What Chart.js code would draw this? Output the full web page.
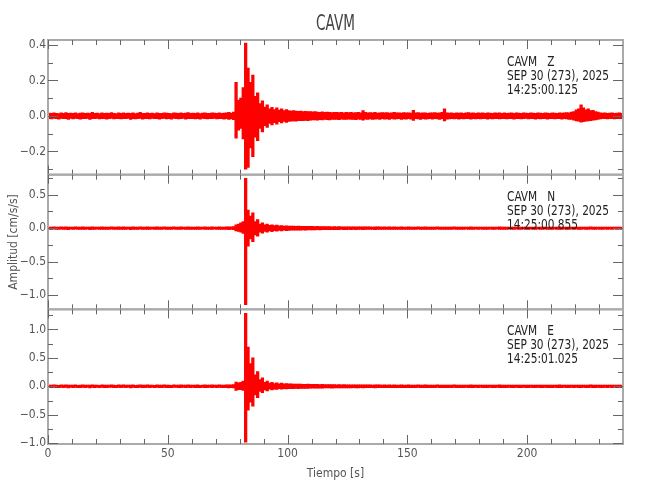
<!DOCTYPE html>
<html lang="es">
<head>
<meta charset="UTF-8">
<title>CAVM</title>
<script src="https://cdn.jsdelivr.net/npm/chart.js"></script>
<style>
  html, body { margin: 0; padding: 0; background: #fff; }
  #wrap { width: 650px; height: 500px; }
</style>
</head>
<body>
<div id="wrap"><canvas id="sismo" width="650" height="500"></canvas></div>
<script>
// --- datos ---------------------------------------------------------------
const station = 'CAVM';
const components = ['Z', 'N', 'E'];
const dateLine = 'SEP 30 (273), 2025';
const startTimes = ['14:25:00.125', '14:25:00.855', '14:25:01.025'];

const xTicks = [0, 50, 100, 150, 200];
const xMinor = [10, 20, 30, 40, 60, 70, 80, 90, 110, 120, 130, 140, 160, 170, 180, 190, 210, 220, 230];

const yTicksZ = [0.4, 0.2, 0, -0.2];
const yMinorZ = [0.3, 0.1, -0.1, -0.3];
const yTicksN = [0.5, 0, -0.5, -1.0];
const yMinorN = [0.75, 0.25, -0.25, -0.75];
const yTicksE = [1.0, 0.5, 0, -0.5, -1.0];
const yMinorE = [1.25, 0.75, 0.25, -0.25, -0.75];

// envolvente por segundo (max / min), cm/s/s, t = 0..239 s
const zHi = [
  .016,.014,.018,.015,.013,.017,.015,.019,.014,.016,
  .015,.017,.013,.016,.018,.014,.016,.015,.020,.014,
  .016,.013,.017,.015,.016,.014,.019,.015,.013,.017,
  .015,.018,.014,.016,.015,.017,.013,.016,.020,.015,
  .014,.017,.015,.016,.013,.018,.015,.014,.017,.016,
  .015,.013,.018,.016,.014,.017,.015,.016,.019,.014,
  .016,.015,.017,.013,.016,.018,.014,.015,.017,.016,
  .015,.018,.014,.016,.017,.020,.016,.022,.190,.090,
  .100,.160,.410,.270,.190,.230,.110,.130,.070,.085,
  .050,.062,.040,.048,.036,.045,.033,.040,.030,.036,
  .030,.028,.030,.027,.026,.028,.025,.026,.024,.025,
  .023,.024,.022,.021,.023,.020,.022,.021,.019,.020,
  .021,.019,.020,.018,.020,.019,.021,.018,.019,.020,
  .018,.030,.020,.017,.019,.018,.020,.016,.018,.019,
  .017,.019,.016,.018,.020,.017,.018,.016,.019,.017,
  .018,.016,.032,.017,.019,.016,.018,.017,.015,.018,
  .017,.019,.016,.018,.020,.040,.017,.016,.018,.015,
  .017,.016,.018,.015,.017,.019,.016,.017,.015,.018,
  .016,.017,.015,.018,.016,.015,.017,.016,.018,.015,
  .017,.015,.016,.018,.015,.017,.016,.014,.017,.016,
  .015,.017,.016,.014,.018,.016,.015,.017,.016,.015,
  .017,.016,.015,.018,.016,.017,.019,.018,.022,.025,
  .035,.040,.062,.045,.035,.040,.030,.032,.025,.022,
  .018,.016,.017,.015,.016,.018,.015,.016,.017,.015
];
const zLo = [
  -.015,-.017,-.014,-.016,-.018,-.014,-.016,-.015,-.019,-.014,
  -.017,-.014,-.016,-.018,-.015,-.016,-.014,-.019,-.015,-.016,
  -.014,-.017,-.015,-.016,-.018,-.015,-.014,-.017,-.016,-.015,
  -.017,-.015,-.016,-.014,-.019,-.015,-.017,-.016,-.014,-.018,
  -.016,-.015,-.017,-.014,-.016,-.015,-.018,-.016,-.014,-.017,
  -.016,-.018,-.014,-.015,-.017,-.016,-.014,-.018,-.015,-.016,
  -.015,-.017,-.016,-.018,-.014,-.016,-.017,-.015,-.016,-.014,
  -.017,-.015,-.016,-.018,-.016,-.019,-.017,-.021,-.125,-.080,
  -.070,-.130,-.300,-.290,-.180,-.230,-.120,-.140,-.070,-.090,
  -.055,-.065,-.042,-.050,-.038,-.046,-.033,-.040,-.031,-.036,
  -.031,-.029,-.028,-.030,-.027,-.026,-.027,-.025,-.026,-.024,
  -.023,-.022,-.024,-.021,-.022,-.020,-.021,-.022,-.019,-.020,
  -.019,-.021,-.018,-.020,-.019,-.018,-.020,-.019,-.021,-.018,
  -.019,-.024,-.018,-.020,-.017,-.019,-.018,-.017,-.019,-.016,
  -.018,-.017,-.019,-.016,-.018,-.017,-.016,-.019,-.017,-.018,
  -.016,-.018,-.025,-.016,-.017,-.019,-.016,-.018,-.017,-.015,
  -.018,-.016,-.017,-.019,-.016,-.028,-.018,-.017,-.015,-.017,
  -.016,-.018,-.015,-.017,-.016,-.015,-.018,-.016,-.017,-.015,
  -.017,-.015,-.016,-.018,-.015,-.017,-.016,-.015,-.017,-.016,
  -.015,-.017,-.016,-.015,-.018,-.016,-.015,-.017,-.016,-.014,
  -.017,-.015,-.016,-.018,-.015,-.017,-.016,-.015,-.018,-.016,
  -.015,-.017,-.016,-.015,-.018,-.016,-.017,-.019,-.020,-.024,
  -.028,-.030,-.035,-.032,-.030,-.028,-.026,-.024,-.022,-.020,
  -.017,-.016,-.015,-.017,-.016,-.015,-.017,-.016,-.015,-.016
];

const nHi = [
  .018,.016,.020,.017,.015,.019,.017,.021,.016,.018,
  .017,.019,.015,.018,.020,.016,.018,.017,.021,.016,
  .018,.015,.019,.017,.018,.016,.020,.017,.015,.019,
  .017,.020,.016,.018,.017,.019,.015,.018,.021,.017,
  .016,.019,.017,.018,.015,.020,.017,.016,.019,.018,
  .017,.015,.020,.018,.016,.019,.017,.018,.021,.016,
  .018,.017,.019,.015,.018,.020,.016,.017,.019,.018,
  .017,.020,.016,.018,.019,.022,.020,.025,.050,.060,
  .080,.100,.746,.270,.180,.230,.100,.130,.060,.080,
  .050,.060,.042,.052,.040,.046,.034,.040,.032,.037,
  .032,.030,.031,.029,.030,.028,.029,.027,.028,.026,
  .027,.025,.026,.024,.025,.023,.024,.025,.022,.023,
  .022,.023,.021,.022,.020,.022,.021,.020,.022,.019,
  .021,.020,.019,.021,.020,.018,.020,.019,.021,.018,
  .019,.018,.020,.017,.019,.018,.016,.019,.018,.017,
  .019,.017,.018,.016,.019,.017,.018,.020,.017,.016,
  .018,.017,.019,.016,.018,.017,.016,.018,.017,.019,
  .016,.018,.017,.015,.018,.017,.019,.016,.017,.018,
  .017,.016,.018,.017,.015,.018,.016,.017,.019,.016,
  .018,.016,.017,.015,.018,.017,.016,.018,.017,.016,
  .017,.018,.016,.017,.015,.018,.017,.016,.018,.017,
  .016,.018,.017,.019,.016,.017,.018,.016,.017,.015,
  .018,.017,.016,.018,.017,.016,.019,.017,.016,.018,
  .017,.016,.018,.015,.017,.016,.018,.017,.015,.016
];
const nLo = [
  -.017,-.019,-.016,-.018,-.020,-.016,-.018,-.017,-.021,-.016,
  -.019,-.016,-.018,-.020,-.017,-.018,-.016,-.021,-.017,-.018,
  -.016,-.019,-.017,-.018,-.020,-.017,-.016,-.019,-.018,-.017,
  -.019,-.017,-.018,-.016,-.021,-.017,-.019,-.018,-.016,-.020,
  -.018,-.017,-.019,-.016,-.018,-.017,-.020,-.018,-.016,-.019,
  -.018,-.020,-.016,-.017,-.019,-.018,-.016,-.020,-.017,-.018,
  -.017,-.019,-.018,-.020,-.016,-.018,-.019,-.017,-.018,-.016,
  -.019,-.017,-.018,-.020,-.018,-.021,-.019,-.024,-.040,-.050,
  -.060,-.080,-1.145,-.270,-.160,-.200,-.100,-.120,-.060,-.075,
  -.050,-.060,-.040,-.052,-.038,-.046,-.033,-.040,-.030,-.036,
  -.032,-.031,-.030,-.029,-.030,-.028,-.027,-.028,-.026,-.027,
  -.025,-.026,-.024,-.025,-.023,-.024,-.022,-.023,-.024,-.022,
  -.021,-.022,-.020,-.022,-.021,-.020,-.021,-.019,-.021,-.020,
  -.019,-.021,-.020,-.018,-.020,-.019,-.021,-.018,-.019,-.020,
  -.018,-.019,-.017,-.019,-.018,-.020,-.017,-.018,-.019,-.017,
  -.018,-.019,-.017,-.018,-.016,-.019,-.018,-.017,-.019,-.018,
  -.017,-.018,-.016,-.019,-.017,-.018,-.019,-.017,-.018,-.016,
  -.018,-.017,-.019,-.017,-.016,-.018,-.017,-.019,-.016,-.018,
  -.016,-.018,-.017,-.019,-.016,-.017,-.018,-.016,-.017,-.019,
  -.017,-.018,-.016,-.017,-.019,-.016,-.018,-.017,-.016,-.018,
  -.018,-.016,-.017,-.019,-.016,-.017,-.018,-.016,-.017,-.018,
  -.017,-.016,-.018,-.017,-.019,-.016,-.017,-.018,-.016,-.017,
  -.016,-.018,-.017,-.016,-.018,-.017,-.015,-.018,-.017,-.016,
  -.018,-.017,-.016,-.018,-.016,-.017,-.015,-.018,-.016,-.017
];

const eHi = [
  .022,.020,.025,.021,.019,.024,.021,.026,.020,.023,
  .021,.024,.019,.022,.025,.020,.023,.021,.026,.020,
  .023,.019,.024,.021,.022,.020,.025,.021,.019,.024,
  .021,.025,.020,.023,.021,.024,.019,.022,.026,.021,
  .020,.024,.021,.023,.019,.025,.021,.020,.024,.022,
  .021,.019,.025,.022,.020,.024,.021,.022,.026,.020,
  .022,.021,.024,.019,.022,.025,.020,.021,.024,.022,
  .021,.024,.020,.023,.025,.028,.026,.032,.076,.060,
  .070,.090,1.280,.690,.400,.500,.200,.260,.120,.150,
  .070,.090,.055,.070,.050,.060,.045,.055,.042,.048,
  .044,.042,.040,.041,.038,.039,.037,.036,.038,.035,
  .034,.035,.033,.032,.034,.031,.030,.032,.029,.030,
  .028,.030,.027,.029,.026,.028,.027,.025,.027,.026,
  .025,.027,.024,.026,.025,.023,.026,.024,.025,.023,
  .024,.022,.025,.023,.024,.022,.021,.024,.023,.022,
  .024,.022,.023,.021,.024,.022,.023,.025,.022,.021,
  .023,.022,.024,.021,.023,.022,.021,.023,.022,.024,
  .021,.023,.022,.020,.023,.022,.024,.021,.022,.023,
  .022,.021,.023,.022,.020,.023,.021,.022,.024,.021,
  .023,.021,.022,.020,.023,.022,.021,.023,.022,.021,
  .022,.023,.021,.022,.020,.023,.022,.021,.023,.022,
  .021,.023,.022,.024,.021,.022,.023,.021,.022,.020,
  .023,.022,.021,.023,.022,.021,.024,.022,.021,.023,
  .022,.021,.023,.020,.022,.021,.023,.022,.020,.021
];
const eLo = [
  -.021,-.023,-.020,-.022,-.025,-.020,-.022,-.021,-.026,-.020,
  -.023,-.020,-.022,-.025,-.021,-.022,-.020,-.026,-.021,-.022,
  -.020,-.023,-.021,-.022,-.025,-.021,-.020,-.023,-.022,-.021,
  -.023,-.021,-.022,-.020,-.026,-.021,-.023,-.022,-.020,-.025,
  -.022,-.021,-.023,-.020,-.022,-.021,-.025,-.022,-.020,-.023,
  -.022,-.025,-.020,-.021,-.023,-.022,-.020,-.025,-.021,-.022,
  -.021,-.023,-.022,-.025,-.020,-.022,-.023,-.021,-.022,-.020,
  -.023,-.021,-.022,-.025,-.022,-.026,-.024,-.030,-.070,-.060,
  -.060,-.070,-.980,-.420,-.280,-.350,-.150,-.200,-.090,-.110,
  -.065,-.080,-.052,-.062,-.048,-.056,-.042,-.050,-.040,-.045,
  -.043,-.042,-.040,-.039,-.040,-.037,-.036,-.037,-.035,-.034,
  -.033,-.034,-.032,-.031,-.032,-.030,-.029,-.030,-.031,-.028,
  -.027,-.029,-.026,-.028,-.027,-.026,-.027,-.025,-.027,-.026,
  -.025,-.026,-.024,-.023,-.025,-.024,-.026,-.023,-.024,-.025,
  -.023,-.024,-.022,-.024,-.023,-.025,-.022,-.023,-.024,-.022,
  -.023,-.024,-.022,-.023,-.021,-.024,-.023,-.022,-.024,-.023,
  -.022,-.023,-.021,-.024,-.022,-.023,-.024,-.022,-.023,-.021,
  -.023,-.022,-.024,-.022,-.021,-.023,-.022,-.024,-.021,-.023,
  -.021,-.023,-.022,-.024,-.021,-.022,-.023,-.021,-.022,-.024,
  -.022,-.023,-.021,-.022,-.024,-.021,-.023,-.022,-.021,-.023,
  -.023,-.021,-.022,-.024,-.021,-.022,-.023,-.021,-.022,-.023,
  -.022,-.021,-.023,-.022,-.024,-.021,-.022,-.023,-.021,-.022,
  -.021,-.023,-.022,-.021,-.023,-.022,-.020,-.023,-.022,-.021,
  -.023,-.022,-.021,-.023,-.021,-.022,-.020,-.023,-.021,-.022
];

// --- dibujo ----------------------------------------------------------------
const FONT = '"DejaVu Sans Condensed", "DejaVu Sans", sans-serif';

// una barra flotante (min..max) por segundo
function trace(hi, lo) {
  return hi.map((h, i) => ({ x: i + 0.5, y: [lo[i], h] }));
}

function fmt(v) {
  return v.toFixed(1).replace('-', '\u2212');
}

function yAxis(min, max, ticks, weight, title) {
  return {
    type: 'linear', position: 'left', stack: 'traza', stackWeight: 1, weight: weight,
    min: min, max: max, offset: false,
    grid: { display: false, drawTicks: false },
    border: { display: false },
    afterBuildTicks: s => { s.ticks = ticks.map(v => ({ value: v })); },
    afterFit: s => { s.width = 48; },
    ticks: { padding: 2, color: '#555', font: { family: FONT, size: 12 }, callback: v => fmt(v) },
    title: title
      ? { display: true, text: title, color: '#555', font: { family: FONT, size: 12 }, padding: { top: 7, bottom: 0 } }
      : { display: false }
  };
}

const panels = [
  { id: 'y1', major: yTicksZ, minor: yMinorZ, comp: components[0], time: startTimes[0] },
  { id: 'y2', major: yTicksN, minor: yMinorN, comp: components[1], time: startTimes[1] },
  { id: 'y3', major: yTicksE, minor: yMinorE, comp: components[2], time: startTimes[2] }
];

function narrowText(ctx, text, x, y, sx) {
  ctx.save();
  ctx.translate(x, y);
  ctx.scale(sx, 1);
  ctx.fillText(text, 0, 0);
  ctx.restore();
}

const panelDeco = {
  id: 'panelDeco',
  afterDatasetsDraw(chart) {
    const ctx = chart.ctx, x = chart.scales.x;
    ctx.save();
    panels.forEach(p => {
      const s = chart.scales[p.id];
      // marco
      ctx.strokeStyle = '#aaa';
      ctx.lineWidth = 2;
      ctx.strokeRect(x.left, s.top, x.right - x.left, s.bottom - s.top);
      // marcas hacia dentro
      ctx.strokeStyle = '#666';
      ctx.lineWidth = 1;
      ctx.beginPath();
      const xt = (list, len) => list.forEach(v => {
        const px = Math.round(x.getPixelForValue(v)) + 0.5;
        ctx.moveTo(px, s.top); ctx.lineTo(px, s.top + len);
        ctx.moveTo(px, s.bottom); ctx.lineTo(px, s.bottom - len);
      });
      const yt = (list, len) => list.forEach(v => {
        const py = Math.round(s.getPixelForValue(v)) + 0.5;
        ctx.moveTo(x.left, py); ctx.lineTo(x.left + len, py);
        ctx.moveTo(x.right, py); ctx.lineTo(x.right - len, py);
      });
      xt(xTicks, 9); xt(xMinor, 5);
      yt(p.major, 10); yt(p.minor, 5);
      ctx.stroke();
      // texto de la estación
      ctx.fillStyle = '#222';
      ctx.font = '14px ' + FONT;
      ctx.textAlign = 'left';
      ctx.textBaseline = 'alphabetic';
      const tx = x.right - 116;
      narrowText(ctx, station + '   ' + p.comp, tx, s.top + 26, 0.84);
      narrowText(ctx, dateLine, tx, s.top + 40, 0.84);
      narrowText(ctx, p.time, tx, s.top + 54, 0.84);
    });
    // título
    ctx.fillStyle = '#444';
    ctx.font = '21px ' + FONT;
    ctx.textAlign = 'center';
    narrowText(ctx, station, (x.left + x.right) / 2, 30, 0.72);
    ctx.restore();
  }
};

const red = '#ff0000';
const barStyle = { type: 'bar', backgroundColor: red, borderWidth: 0, barThickness: 2.6, grouped: false };

new Chart(document.getElementById('sismo').getContext('2d'), {
  type: 'bar',
  data: {
    datasets: [
      Object.assign({ data: trace(zHi, zLo), yAxisID: 'y1' }, barStyle),
      Object.assign({ data: trace(nHi, nLo), yAxisID: 'y2' }, barStyle),
      Object.assign({ data: trace(eHi, eLo), yAxisID: 'y3' }, barStyle)
    ]
  },
  options: {
    responsive: false,
    animation: false,
    devicePixelRatio: 1,
    layout: { padding: { top: 40, right: 27, bottom: 0, left: 0 } },
    plugins: { legend: { display: false }, tooltip: { enabled: false } },
    scales: {
      x: {
        type: 'linear', position: 'bottom', min: 0, max: 240, offset: false,
        grid: { display: false, drawTicks: false, offset: false },
        border: { display: false },
        afterBuildTicks: s => { s.ticks = xTicks.map(v => ({ value: v })); },
        afterFit: s => { s.height = 56; },
        ticks: { padding: 3, maxRotation: 0, autoSkip: false, color: '#555', font: { family: FONT, size: 12 } },
        title: { display: true, text: 'Tiempo [s]', color: '#555', font: { family: FONT, size: 12 }, padding: { top: 0, bottom: 19 } }
      },
      y1: yAxis(-0.331, 0.428, yTicksZ, 3, null),
      y2: yAxis(-1.213, 0.80, yTicksN, 2, 'Amplitud [cm/s/s]'),
      y3: yAxis(-1.013, 1.352, yTicksE, 1, null)
    }
  },
  plugins: [panelDeco]
});
</script>
</body>
</html>
